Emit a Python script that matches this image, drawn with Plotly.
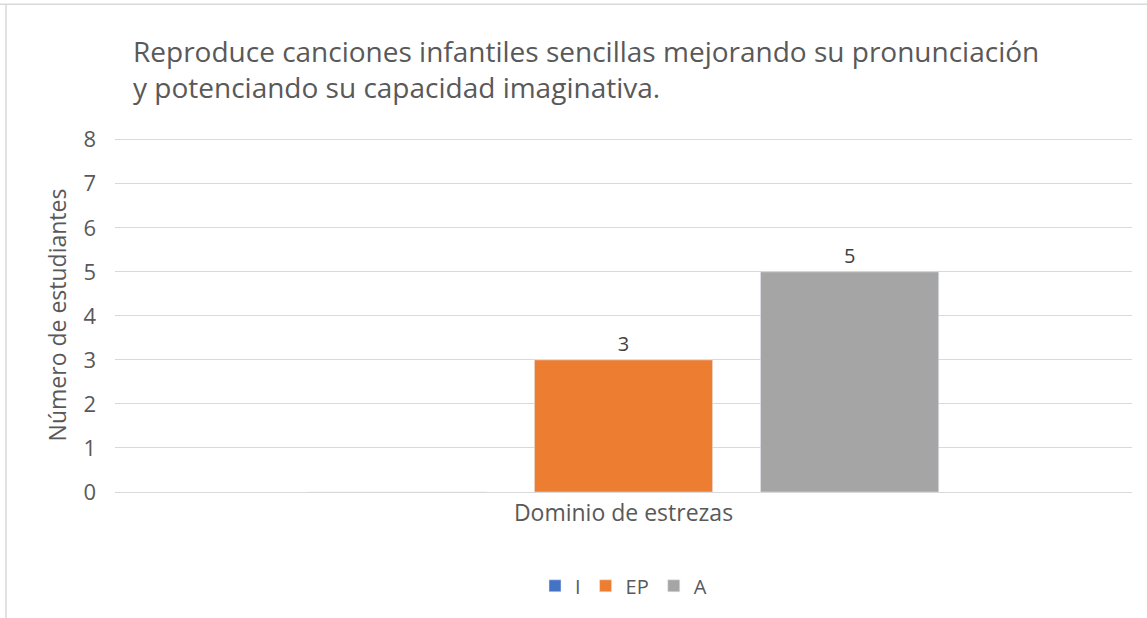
import plotly.graph_objects as go

categories = ["Dominio de estrezas"]
series_names = ["I", "EP", "A"]
series_values = [[0], [3], [5]]
series_colors = ["#4472C4", "#ED7D31", "#A5A5A5"]
y_ticks = [0, 1, 2, 3, 4, 5, 6, 7, 8]

FONT = "Open Sans"
TXT = "#595959"
BORDER = "#D9D9D9"

fig = go.Figure()
for name, vals, col in zip(series_names, series_values, series_colors):
    fig.add_trace(go.Bar(
        name=name, x=categories, y=vals, marker_color=col,
        text=[str(v) if v > 0 else "" for v in vals],
        textposition="outside", cliponaxis=False,
        textfont=dict(family=FONT, size=20, color="#404040"),
    ))

fig.update_layout(
    width=1147, height=618,
    paper_bgcolor="white", plot_bgcolor="white",
    margin=dict(l=115, r=15, t=138, b=126),
    barmode="group", bargap=0.333, bargroupgap=0.212,
    title=dict(
        text="Reproduce canciones infantiles sencillas mejorando su pronunciación<br>y potenciando su capacidad imaginativa.",
        x=133/1147, xanchor="left", y=1-62/618, yanchor="middle",
        font=dict(family=FONT, size=28, color=TXT),
    ),
    font=dict(family=FONT, color=TXT),
    showlegend=True,
    legend=dict(orientation="h", x=0.5, xanchor="center", y=-0.265, yanchor="middle",
                font=dict(family=FONT, size=20, color=TXT), traceorder="normal",
                itemwidth=30),
    yaxis=dict(range=[0, 8.04], tickvals=y_ticks, showgrid=True, gridcolor=BORDER,
               gridwidth=1.3, zeroline=False, showline=False, ticks="",
               ticklabelstandoff=18,
               tickfont=dict(family=FONT, size=22, color=TXT),
               title=dict(text="Número de estudiantes", standoff=10,
                          font=dict(family=FONT, size=23, color=TXT))),
    xaxis=dict(showline=True, linecolor=BORDER, linewidth=1.3, ticks="",
               tickfont=dict(family=FONT, size=23, color=TXT)),
    shapes=[
        dict(type="line", xref="paper", yref="paper",
             x0=-0.5, x1=1.5, y0=(492-7)/352, y1=(492-7)/352,
             line=dict(color=BORDER, width=1.5)),
        dict(type="line", xref="paper", yref="paper",
             x0=(6-115)/1017, x1=(6-115)/1017, y0=-1, y1=(492-7)/352,
             line=dict(color=BORDER, width=1.5)),
    ],
)

fig.write_html("out.html", config={"displayModeBar": False},
               post_script="document.body.style.margin='0';")
